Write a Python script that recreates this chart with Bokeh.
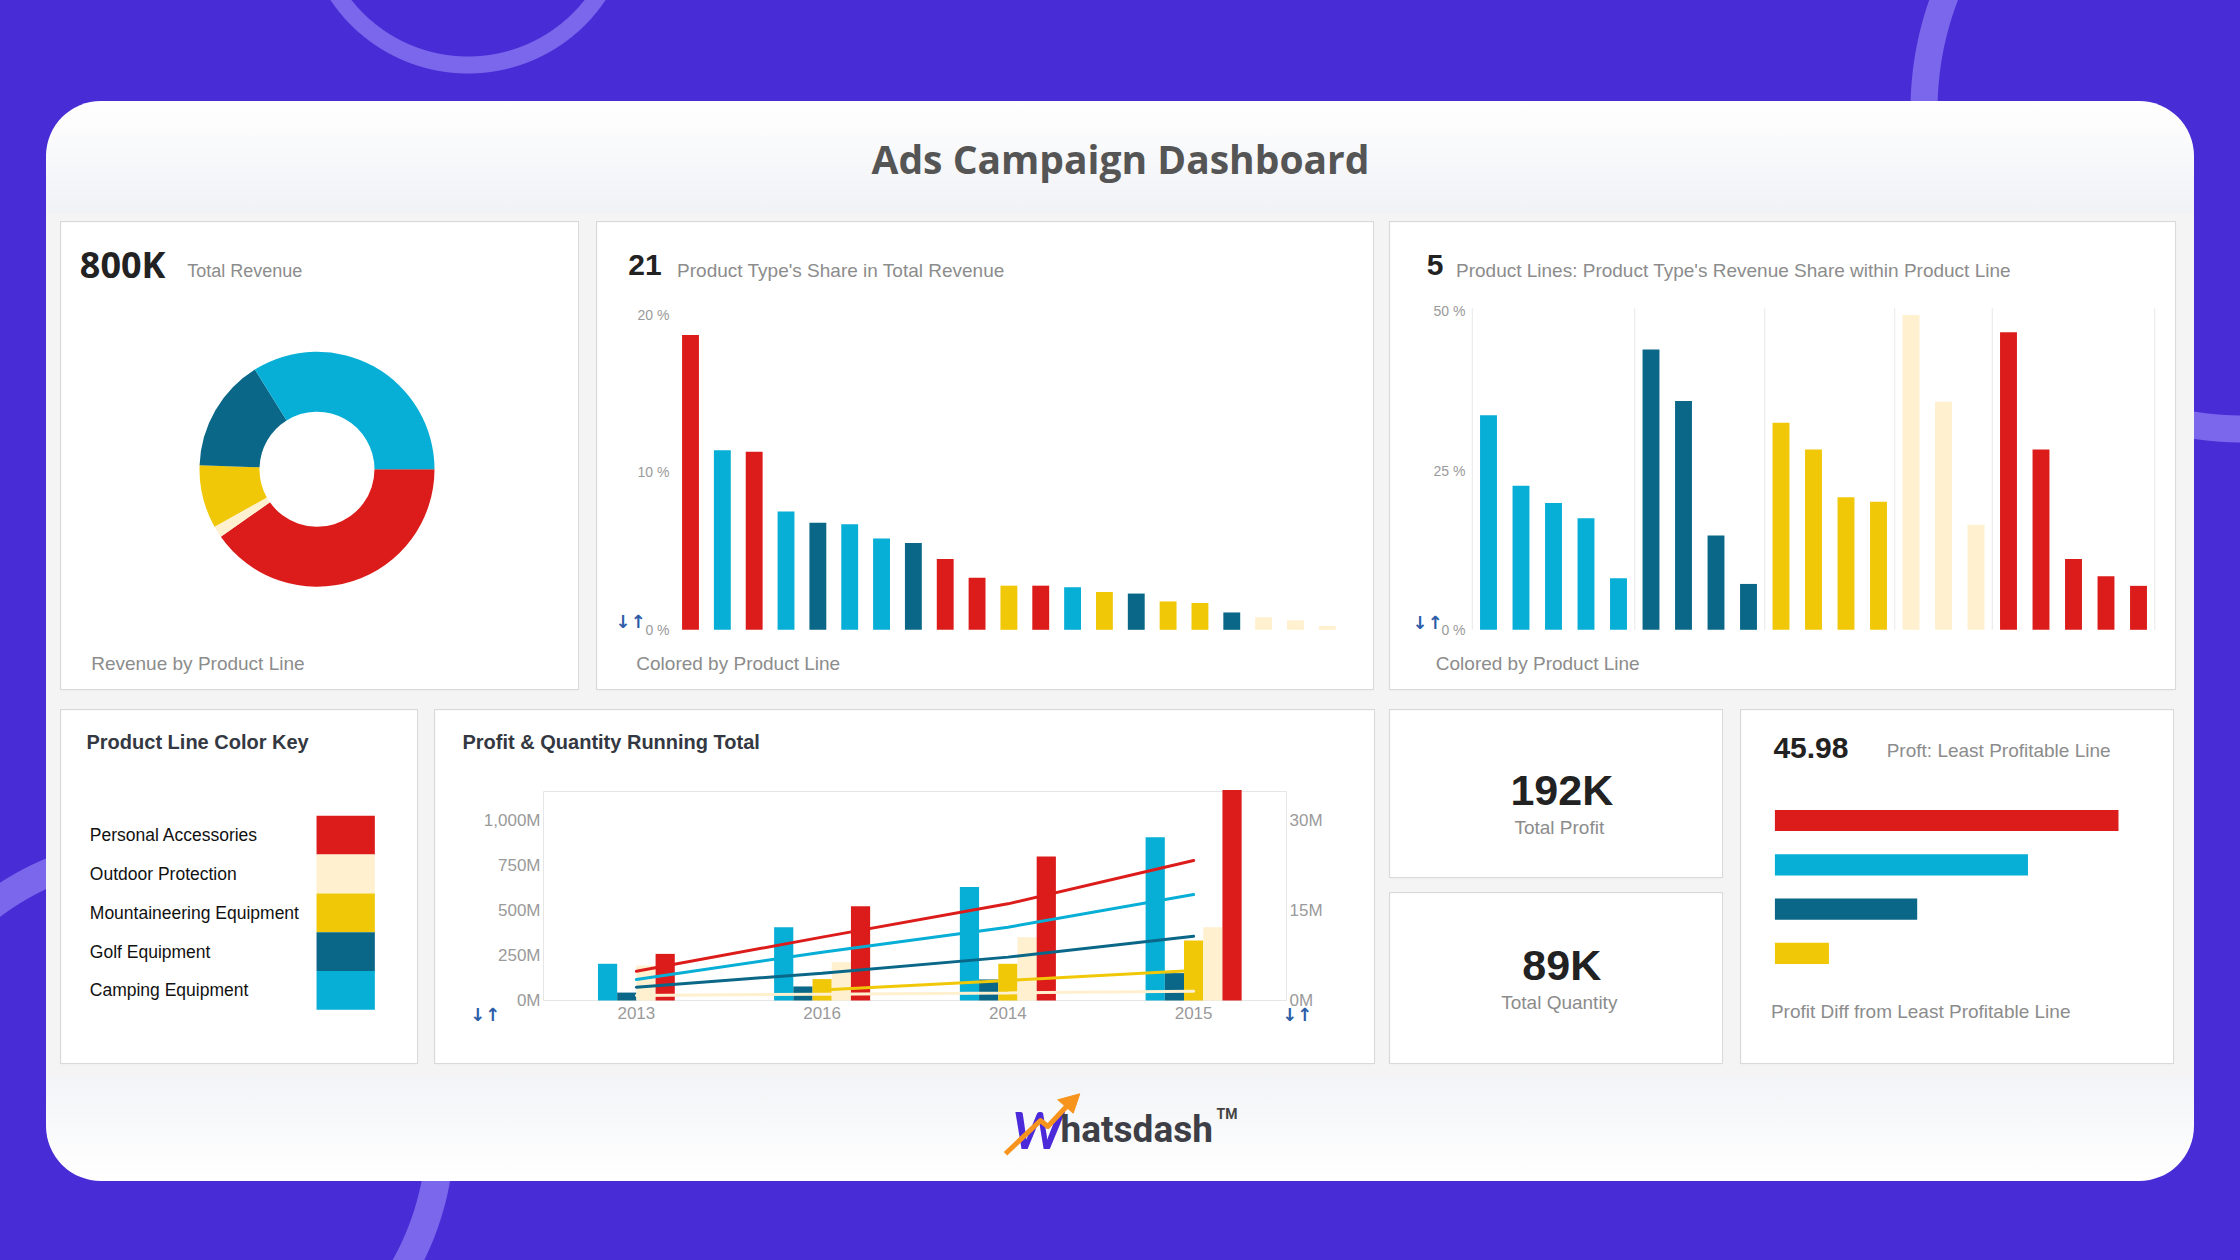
import math
from bokeh.plotting import figure
from bokeh.layouts import row, column
from bokeh.models import (Range1d, LinearAxis, FixedTicker, PrintfTickFormatter,
                          CustomJSTickFormatter, Label, Spacer, ColumnDataSource)
from bokeh.core.properties import value
from bokeh.embed import file_html
from bokeh.resources import INLINE

# ---------------- DATA ----------------
product_lines = ["Personal Accessories", "Outdoor Protection",
                 "Mountaineering Equipment", "Golf Equipment", "Camping Equipment"]
line_colors = ["#DC1C1A", "#FFF0CF", "#F0C808", "#0A6788", "#07AED6"]

total_revenue = "800K"
revenue_share_by_line = [40.3, 1.6, 8.7, 15.6, 33.9]          # order of product_lines

type_count = "21"
type_share_line = ["Personal Accessories", "Camping Equipment", "Personal Accessories",
                   "Camping Equipment", "Golf Equipment", "Camping Equipment",
                   "Camping Equipment", "Golf Equipment", "Personal Accessories",
                   "Personal Accessories", "Mountaineering Equipment", "Personal Accessories",
                   "Camping Equipment", "Mountaineering Equipment", "Golf Equipment",
                   "Mountaineering Equipment", "Mountaineering Equipment", "Golf Equipment",
                   "Outdoor Protection", "Outdoor Protection", "Outdoor Protection"]
type_share = [18.7, 11.4, 11.3, 7.5, 6.8, 6.7, 5.8, 5.5, 4.5, 3.3, 2.8,
              2.8, 2.7, 2.4, 2.3, 1.8, 1.7, 1.1, 0.8, 0.6, 0.25]

line_count = "5"
within_groups = ["Camping Equipment", "Golf Equipment", "Mountaineering Equipment",
                 "Outdoor Protection", "Personal Accessories"]
within_camping = [33.7, 22.6, 19.9, 17.5, 8.1]
within_golf = [44.0, 35.9, 14.8, 7.2]
within_mountaineering = [32.5, 28.3, 20.8, 20.1]
within_outdoor = [49.4, 35.8, 16.5]
within_personal = [46.7, 28.3, 11.1, 8.4, 6.9]

years = ["2013", "2016", "2014", "2015"]
rev_camping = [204, 407, 630, 907]
rev_golf = [44, 78, 117, 152]
rev_mountaineering = [None, 119, 204, 333]
rev_outdoor = [194, 213, 352, 407]
rev_personal = [259, 524, 800, 1170]
qty_camping = [3.51, 8.04, 12.21, 17.67]
qty_golf = [2.22, 4.56, 7.23, 10.71]
qty_mountaineering = [float("nan"), 1.77, 3.33, 5.01]
qty_outdoor = [0.84, 1.05, 1.26, 1.56]
qty_personal = [4.89, 10.56, 16.11, 23.34]

total_profit = "192K"
total_quantity = "89K"
least_profit = "45.98"
diff_lines = ["Personal Accessories", "Camping Equipment", "Golf Equipment",
              "Mountaineering Equipment"]
profit_diff = [76.3, 56.2, 31.6, 12.0]

# ---------------- STYLE ----------------
FONT = "Liberation Sans"
GRAY = "#8C8C8C"
DARK = "#222222"
TITLE_C = "#343842"
ICON_C = "#2C5DA8"
color_of = dict(zip(product_lines, line_colors))


# ranges that place a value v0 at local pixel px0 with k pixels per unit (frame == canvas)
def xr(S, px0, v0, k):
    return Range1d(v0 - px0 / k, v0 + (S - px0) / k)


def yr_up(S, t0, v0, k):          # t0 = pixels from top, values grow upward
    return Range1d(v0 + (t0 - S) / k, v0 + t0 / k)


def yr_down(S, t0, v0, k):        # values grow downward (row index)
    return Range1d(v0 + (S - t0) / k, v0 - t0 / k)


def base_fig(w, h, x_range, y_range, xat=None, yat=None, boxed=True):
    p = figure(width=w, height=h, x_range=x_range, y_range=y_range, output_backend="svg",
               toolbar_location=None, tools="", x_axis_type=xat, y_axis_type=yat,
               min_border=0, min_border_left=0, min_border_right=0,
               min_border_top=0, min_border_bottom=0)
    try:
        p.frame_align = False
    except Exception:
        pass
    p.outline_line_color = None
    p.grid.visible = False
    if boxed:
        p.background_fill_color = "white"
        p.border_fill_color = "white"
        p.styles = {"box-shadow": "0 0 0 1px #D9D9D9, 0 1px 3px rgba(0,0,0,0.05)"}
    else:
        p.background_fill_color = None
        p.border_fill_color = None
    return p


def put(p, h, x, yc, text, size, color=GRAY, style="normal", font=FONT, align="left"):
    """x = pixels from left, yc = pixels from top of the text's vertical centre."""
    p.add_layout(Label(x=x, y=h - yc, x_units="screen", y_units="screen",
                       text=text, text_font=font, text_font_size=f"{size}px",
                       text_color=color, text_font_style=style, text_align=align,
                       text_baseline="middle"))


def style_axis(ax, size="15px", standoff=5):
    ax.axis_line_color = None
    ax.major_tick_line_color = None
    ax.minor_tick_line_color = None
    ax.major_tick_out = 0
    ax.major_tick_in = 0
    ax.minor_tick_out = 0
    ax.minor_tick_in = 0
    ax.major_label_text_color = "#9A9A9A"
    ax.major_label_text_font = FONT
    ax.major_label_text_font_size = size
    ax.major_label_standoff = standoff


# ---------------- PANEL 1 : donut ----------------
p1 = base_fig(517, 467, Range1d(0, 517), Range1d(0, 467))
tot = sum(revenue_share_by_line)
starts, ends, cum = [], [], 0.0
for v in revenue_share_by_line:
    a0 = cum / tot * 2 * math.pi
    cum += v
    a1 = cum / tot * 2 * math.pi
    starts.append(-a1)
    ends.append(-a0)
p1.annular_wedge(x=255.5, y=220.2, inner_radius=57.5, outer_radius=117.5,
                 start_angle="s", end_angle="e", fill_color="c", line_color=None,
                 source=ColumnDataSource(dict(s=starts, e=ends, c=line_colors)))
put(p1, 467, 18.3, 42.2, total_revenue, 36, DARK, "bold", "Open Sans")
put(p1, 467, 125.7, 48, "Total Revenue", 18)
put(p1, 467, 29.7, 441.3, "Revenue by Product Line", 19)

# ---------------- PANEL 2 : type share ----------------
p2 = base_fig(776, 467, xr(776, 93, 0, 31.84), yr_up(467, 407.3, 0, 15.76), None, "linear")
p2.vbar(x="x", top="top", width=0.53, fill_color="c", line_color=None,
        source=ColumnDataSource(dict(x=list(range(len(type_share))), top=type_share,
                                     c=[color_of[n] for n in type_share_line])))
ax2 = p2.yaxis[0]
style_axis(ax2, "14px")
ax2.fixed_location = (77 - 93) / 31.84
ax2.ticker = FixedTicker(ticks=[0, 10, 20])
ax2.formatter = PrintfTickFormatter(format="%d %%")
put(p2, 467, 30.8, 42.8, type_count, 30, DARK, "bold")
put(p2, 467, 79.6, 48, "Product Type's Share in Total Revenue", 19)
put(p2, 467, 38.8, 441.3, "Colored by Product Line", 19)
put(p2, 467, 48, 399, "↓↑", 18, ICON_C, "bold", "DejaVu Sans", "right")

# ---------------- PANEL 3 : within line share ----------------
p3 = base_fig(785, 467, xr(785, 98, 0, 32.5), yr_up(467, 407.3, 0, 6.37), None, "linear")
groups_vals = [within_camping, within_golf, within_mountaineering,
               within_outdoor, within_personal]
xs3, tops3, cols3, bounds = [], [], [], [-0.5]
i = 0
for g, vals in zip(within_groups, groups_vals):
    for v in vals:
        xs3.append(i)
        tops3.append(v)
        cols3.append(color_of[g])
        i += 1
    bounds.append(i - 0.5)
p3.segment(x0=bounds, x1=bounds, y0=[0] * len(bounds), y1=[50.5] * len(bounds),
           line_color="#E8E8E8", line_width=1)
p3.vbar(x="x", top="top", width=0.52, fill_color="c", line_color=None,
        source=ColumnDataSource(dict(x=xs3, top=tops3, c=cols3)))
ax3 = p3.yaxis[0]
style_axis(ax3, "14px")
ax3.fixed_location = (80 - 98) / 32.5
ax3.ticker = FixedTicker(ticks=[0, 25, 50])
ax3.formatter = PrintfTickFormatter(format="%d %%")
put(p3, 467, 36.3, 42.8, line_count, 30, DARK, "bold")
put(p3, 467, 65.5, 48, "Product Lines: Product Type's Revenue Share within Product Line", 19)
put(p3, 467, 45.3, 441.3, "Colored by Product Line", 19)
put(p3, 467, 52, 400, "↓↑", 18, ICON_C, "bold", "DejaVu Sans", "right")

# ---------------- PANEL 4 : color key ----------------
p4 = base_fig(356, 353, Range1d(0, 356), yr_down(353, 124.7, 0, 38.8))
src4 = ColumnDataSource(dict(i=list(range(len(product_lines))), name=product_lines,
                             c=line_colors))
p4.rect(x=284.2, y="i", width=58.3, height=1.0, fill_color="c", line_color=None, source=src4)
p4.text(x=28.3, y="i", text="name", source=src4, text_font=value(FONT),
        text_font_size=value("17.5px"), text_baseline="middle", text_color="#111111")
put(p4, 353, 25, 31.7, "Product Line Color Key", 20, TITLE_C, "bold")

# ---------------- PANEL 5 : running totals ----------------
CAT = 185.75
p5 = base_fig(939, 353, xr(939, 108, 0, CAT), yr_up(353, 290, 0, 0.18), "linear", "linear")
p5.extra_y_ranges = {"qty": yr_up(353, 290, 0, 6.0)}
p5.quad(left=[0], right=[len(years)], bottom=[0], top=[209 / 0.18],
        fill_color=None, line_color="#E6E6E6", line_width=1)
series = [("Camping Equipment", rev_camping), ("Golf Equipment", rev_golf),
          ("Mountaineering Equipment", rev_mountaineering),
          ("Outdoor Protection", rev_outdoor), ("Personal Accessories", rev_personal)]
BW = 0.1034
xs5, tops5, cols5 = [], [], []
for yi, yr in enumerate(years):
    present = [(n, v[yi]) for n, v in series if v[yi] is not None]
    n = len(present)
    for k, (name, val) in enumerate(present):
        xs5.append(yi + 0.5 + (k - (n - 1) / 2) * BW)
        tops5.append(val)
        cols5.append(color_of[name])
p5.vbar(x="x", top="top", width=BW, fill_color="c", line_color=None,
        source=ColumnDataSource(dict(x=xs5, top=tops5, c=cols5)))
year_x = [i + 0.5 for i in range(len(years))]
for name, q in [("Outdoor Protection", qty_outdoor),
                ("Mountaineering Equipment", qty_mountaineering),
                ("Golf Equipment", qty_golf), ("Camping Equipment", qty_camping),
                ("Personal Accessories", qty_personal)]:
    p5.line(x=year_x, y=q, y_range_name="qty", line_color=color_of[name], line_width=3,
            line_cap="round")
lax = p5.yaxis[0]
style_axis(lax, "17px", 3)
lax.fixed_location = 0
lax.ticker = FixedTicker(ticks=[0, 250, 500, 750, 1000])
lax.formatter = CustomJSTickFormatter(code="return tick.toLocaleString('en-US') + 'M'")
rax = LinearAxis(y_range_name="qty", ticker=FixedTicker(ticks=[0, 15, 30]),
                 formatter=PrintfTickFormatter(format="%dM"))
style_axis(rax, "17px", 3)
rax.fixed_location = len(years)
p5.add_layout(rax, "right")
bax = p5.xaxis[0]
style_axis(bax, "17px", 6)
bax.fixed_location = 0
bax.ticker = FixedTicker(ticks=year_x)
bax.formatter = CustomJSTickFormatter(args=dict(yrs=years),
                                      code="const i = Math.floor(tick); return (i >= 0 && i < yrs.length) ? yrs[i] : '';")
put(p5, 353, 27, 31.7, "Profit & Quantity Running Total", 20, TITLE_C, "bold")
put(p5, 353, 49.5, 304, "↓↑", 18, ICON_C, "bold", "DejaVu Sans", "center")
put(p5, 353, 861.5, 304, "↓↑", 18, ICON_C, "bold", "DejaVu Sans", "center")

# ---------------- PANELS 6 / 7 : KPIs ----------------
p6 = base_fig(332, 167, Range1d(0, 332), Range1d(0, 167))
put(p6, 167, 171.3, 79, total_profit, 43, DARK, "bold", align="center")
put(p6, 167, 168.8, 116.7, "Total Profit", 19, align="center")
p7 = base_fig(332, 170, Range1d(0, 332), Range1d(0, 170))
put(p7, 170, 171.3, 71, total_quantity, 43, DARK, "bold", align="center")
put(p7, 170, 168.8, 108.7, "Total Quantity", 19, align="center")

# ---------------- PANEL 8 : profit diff ----------------
p8 = base_fig(432, 353, xr(432, 33.4, 0, 4.503), yr_down(353, 110, 0, 44.27))
p8.hbar(y="i", right="v", height=0.48, fill_color="c", line_color=None,
        source=ColumnDataSource(dict(i=list(range(len(diff_lines))), v=profit_diff,
                                     c=[color_of[n] for n in diff_lines])))
put(p8, 353, 31.9, 37.5, least_profit, 30, DARK, "bold")
put(p8, 353, 145.2, 40, "Proft: Least Profitable Line", 19)
put(p8, 353, 29.4, 301, "Profit Diff from Least Profitable Line", 19)

# ---------------- TITLE & LOGO ----------------
pt = base_fig(2148, 121, Range1d(0, 2148), Range1d(0, 121), boxed=False)
put(pt, 121, 1074, 57, "Ads Campaign Dashboard", 39, "#555555", "bold", "Open Sans", "center")

pl = base_fig(2148, 118, Range1d(0, 2148), Range1d(118, 0), boxed=False)
put(pl, 118, 966, 65, "W", 52, "#4A2AD9", "bold italic", "Lato")
put(pl, 118, 1014, 66, "hatsdash", 37, "#3E3E46", "bold", "Roboto")
put(pl, 118, 1170, 50, "TM", 14, "#444444", "bold", "Roboto")
arrow_line_x = [959, 994, 1001.3, 1020]
arrow_line_y = [90.3, 57, 63, 43]
arrow_head_x = [1033.3, 1011.3, 1026.7]
arrow_head_y = [30.3, 36.3, 49.7]
r1 = pl.line(arrow_line_x, arrow_line_y, line_color="#F7941D", line_width=5, line_join="round")
r2 = pl.patch(arrow_head_x, arrow_head_y, fill_color="#F7941D", line_color="#F7941D")
r1.level = "overlay"
r2.level = "overlay"

# ---------------- LAYOUT ----------------
row1 = row(Spacer(width=15, height=467), p1, Spacer(width=19, height=467), p2,
           Spacer(width=17, height=467), p3, width=2148, height=467)
col67 = column(p6, Spacer(width=332, height=16), p7, width=332, height=353)
row2 = row(Spacer(width=15, height=353), p4, Spacer(width=18, height=353), p5,
           Spacer(width=16, height=353), col67, Spacer(width=19, height=353), p8,
           width=2148, height=353)
card = column(pt, row1, Spacer(width=2148, height=21), row2, pl, width=2148, height=1080,
              styles={"background": "linear-gradient(180deg, #FFFFFF 0px, #F1F2F6 112px, "
                                    "#F4F4F4 112px, #F4F4F4 976px, #F3F4F7 976px, #FFFFFF 1080px)",
                      "border-radius": "55px"})
mid = row(Spacer(width=46, height=1080), card, Spacer(width=46, height=1080),
          width=2240, height=1080)
ring = "#7B67EC"
bg_img = (
    f"radial-gradient(circle at 468px -92px, rgba(0,0,0,0) 148px, {ring} 149px, {ring} 165px, rgba(0,0,0,0) 166px), "
    f"radial-gradient(circle at 2243px 110px, rgba(0,0,0,0) 305px, {ring} 306px, {ring} 332px, rgba(0,0,0,0) 333px), "
    f"radial-gradient(circle at 160px 1130px, rgba(0,0,0,0) 266px, {ring} 267px, {ring} 294px, rgba(0,0,0,0) 295px)"
)
root = column(Spacer(width=2240, height=101), mid, Spacer(width=2240, height=79),
              width=2240, height=1260,
              styles={"background-color": "#482CD6", "background-image": bg_img})

open("out.html", "w").write(file_html(root, INLINE))
